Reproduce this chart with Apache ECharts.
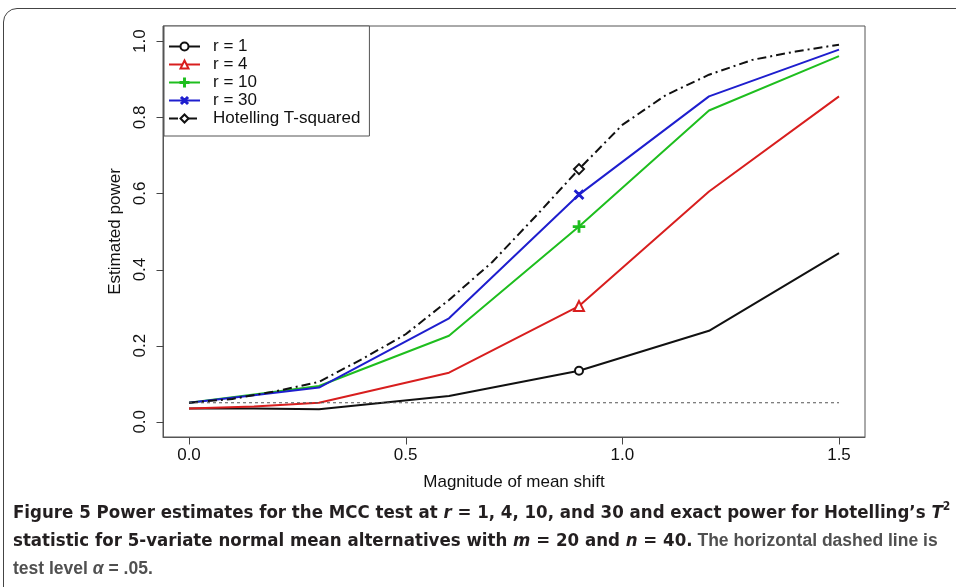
<!DOCTYPE html>
<html><head><meta charset="utf-8">
<script src="https://cdn.jsdelivr.net/npm/echarts@6/dist/echarts.min.js"></script>
<style>
html,body{margin:0;padding:0;background:#fff}
#wrap{position:relative;width:956px;height:587px;overflow:hidden}
#frame{position:absolute;left:3px;top:8px;width:1000px;height:700px;border:1.5px solid #444;border-radius:14px;box-sizing:border-box}
#c{position:absolute;left:0;top:0;width:956px;height:587px}
</style>
</head><body><div id="wrap"><div id="frame"></div><div id="c"></div></div>
<script>
// ---- data ----
const shifts = [0, 0.15, 0.3, 0.6, 0.9, 1.2, 1.5];
const powerR1 = [0.035, 0.035, 0.033, 0.068, 0.134, 0.239, 0.443];
const powerR4 = [0.035, 0.040, 0.050, 0.129, 0.304, 0.605, 0.855];
const powerR10 = [0.050, 0.072, 0.094, 0.226, 0.513, 0.818, 0.961];
const powerR30 = [0.050, 0.070, 0.090, 0.272, 0.597, 0.855, 0.978];
const hotellingShifts = [0, 0.1, 0.2, 0.3, 0.4, 0.5, 0.6, 0.7, 0.8, 0.9, 1.0, 1.1, 1.2, 1.3, 1.4, 1.5];
const hotellingPower = [0.050, 0.060, 0.080, 0.105, 0.165, 0.230, 0.320, 0.420, 0.540, 0.664, 0.780, 0.858, 0.912, 0.951, 0.973, 0.991];
const testLevel = 0.05;
const testLevelRange = [0, 1.5];
const markerShift = 0.9;
const xTicks = [0, 0.5, 1.0, 1.5];
const yTicks = [0, 0.2, 0.4, 0.6, 0.8, 1.0];
const xRange = [-0.06, 1.56];
const yRange = [-0.04, 1.04];
const seriesNames = ['r = 1', 'r = 4', 'r = 10', 'r = 30', 'Hotelling T-squared'];
const xTitle = 'Magnitude of mean shift';
const yTitle = 'Estimated power';

const FONT = "'Liberation Sans', Arial, sans-serif";
const CAP = "'Liberation Sans Narrow', 'DejaVu Sans Condensed', 'Liberation Sans', sans-serif";
const CAPN = "'Liberation Sans', Arial, sans-serif";
const TICK_LEN = 7;

function build(xs, ys) {
  return xs.map((x, i) => Math.abs(x - markerShift) < 1e-9 ? [x, ys[i]] : { value: [x, ys[i]], symbol: 'none' });
}
const plusPath = 'path://M4.4,0H5.6V4.4H10V5.6H5.6V10H4.4V5.6H0V4.4H4.4Z';

function lineSeries(name, xs, ys, color, symbol, size, extra) {
  return Object.assign({
    name: name, type: 'line', data: build(xs, ys),
    symbol: symbol, symbolSize: size, showSymbol: true,
    lineStyle: { color: color, width: 2 },
    itemStyle: { color: color, borderColor: color, borderWidth: 1.5 },
    emphasis: { disabled: true }, silent: true, z: 3
  }, extra || {});
}

// tick marks placed through the axes' own scales (outward, R style)
function tickSeries(data, horizontal) {
  return {
    type: 'custom', silent: true, clip: false, z: 5,
    data: data,
    renderItem: function (params, api) {
      const p = api.coord([api.value(0), api.value(1)]);
      const x = Math.round(p[0]) + 0.5, y = Math.round(p[1]) + 0.5;
      return {
        type: 'line',
        shape: horizontal ? { x1: x - TICK_LEN, y1: y, x2: x, y2: y } : { x1: x, y1: y, x2: x, y2: y + TICK_LEN },
        style: { stroke: '#444', lineWidth: 1 }
      };
    }
  };
}

const chart = echarts.init(document.getElementById('c'), null, { renderer: 'canvas' });
chart.setOption({
  animation: false,
  grid: { left: 163, top: 26, width: 702, height: 411, show: true, borderColor: '#555', borderWidth: 1 },
  xAxis: {
    type: 'value', min: xRange[0], max: xRange[1],
    name: xTitle, nameLocation: 'middle', nameGap: 37,
    nameTextStyle: { fontFamily: FONT, fontSize: 17, color: '#111' },
    axisLine: { show: true, onZero: false, lineStyle: { color: '#555' } },
    splitLine: { show: false },
    axisTick: { show: false },
    axisLabel: { customValues: xTicks, margin: 10, fontFamily: FONT, fontSize: 17, color: '#111', formatter: v => v.toFixed(1) }
  },
  yAxis: {
    type: 'value', min: yRange[0], max: yRange[1],
    name: yTitle, nameLocation: 'middle', nameGap: 35,
    nameTextStyle: { fontFamily: FONT, fontSize: 17, color: '#111' },
    axisLine: { show: true, onZero: false, lineStyle: { color: '#555' } },
    splitLine: { show: false },
    axisTick: { show: false },
    axisLabel: { customValues: yTicks, margin: 14, rotate: 90, fontFamily: FONT, fontSize: 17, color: '#111', formatter: v => v.toFixed(1) }
  },
  legend: {
    data: seriesNames, orient: 'vertical', left: 164, top: 26,
    backgroundColor: '#fff', borderColor: '#555', borderWidth: 1, borderRadius: 0,
    padding: [12, 9, 9, 4], itemGap: 1, itemWidth: 31, itemHeight: 10,
    textStyle: { fontFamily: FONT, fontSize: 17, color: '#111', lineHeight: 17, padding: [0, 0, 0, 8] },
    selectedMode: false
  },
  title: {
    left: 13, top: 499, padding: 0,
    text: [
      '{b|Figure 5 Power estimates for the MCC test at }{bi|r}{b| = 1, 4, 10, and 30 and exact power for Hotelling\u2019s }{bi|T}{sup|2}',
      '{b|statistic for 5-variate normal mean alternatives with }{bi|m}{b| = 20 and }{bi|n}{b| = 40.}{n| The horizontal dashed line is}',
      '{n|test level }{ni|\u03b1}{n| = .05.}'
    ].join('\n'),
    textStyle: {
      rich: {
        b: { fontFamily: CAP, fontWeight: 'bold', fontSize: 18.5, color: '#231f20', lineHeight: 28 },
        bi: { fontFamily: CAP, fontWeight: 'bold', fontStyle: 'italic', fontSize: 18.5, color: '#231f20', lineHeight: 28 },
        sup: { fontFamily: CAP, fontWeight: 'bold', fontSize: 12, color: '#231f20', lineHeight: 28, padding: [0, 0, 12, 0] },
        n: { fontFamily: CAPN, fontSize: 17.5, color: '#505050', lineHeight: 28 },
        ni: { fontFamily: CAPN, fontStyle: 'italic', fontSize: 17.5, color: '#505050', lineHeight: 28 }
      }
    }
  },
  series: [
    lineSeries(seriesNames[0], shifts, powerR1, '#111111', 'emptyCircle', 8),
    lineSeries(seriesNames[1], shifts, powerR4, '#d81e1e', 'emptyTriangle', 10),
    lineSeries(seriesNames[2], shifts, powerR10, '#1ebe1e', plusPath, 11),
    lineSeries(seriesNames[3], shifts, powerR30, '#1e1ece', plusPath, 11, { symbolRotate: 45 }),
    lineSeries(seriesNames[4], hotellingShifts, hotellingPower, '#111111', 'emptyDiamond', 10,
      { lineStyle: { color: '#111111', width: 2, type: [9, 4, 2, 4] } }),
    {
      name: 'test level', type: 'line', silent: true, symbol: 'none', z: 4,
      data: testLevelRange.map(x => [x, testLevel]),
      lineStyle: { color: '#555', width: 1, type: [3, 3] }
    },
    tickSeries(xTicks.map(v => [v, yRange[0]]), false),
    tickSeries(yTicks.map(v => [xRange[0], v]), true)
  ]
});
</script></body></html>
